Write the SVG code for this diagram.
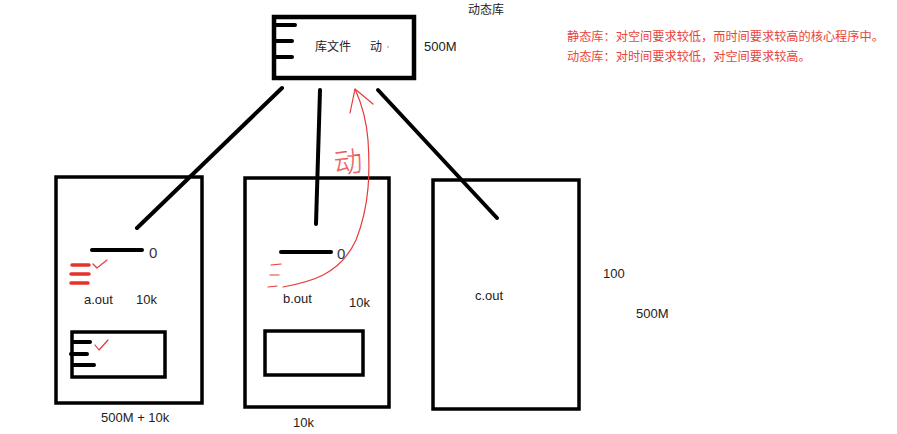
<svg xmlns="http://www.w3.org/2000/svg" width="897" height="434" viewBox="0 0 897 434">
<style>
.box{fill:none;stroke:#000;stroke-width:3.5}
.thick{fill:none;stroke:#000;stroke-width:4;stroke-linecap:round}
.t{font-family:"Liberation Sans","Noto Sans CJK SC",sans-serif;font-size:13px;fill:#222}
.cn{font-family:"Noto Sans CJK SC","Liberation Sans",sans-serif;font-size:12px;fill:#222}
.red{fill:none;stroke:#e83a3a;stroke-width:1.2;stroke-linecap:round;stroke-linejoin:round}
.redbar{stroke:#e8302c;stroke-width:3.5;stroke-linecap:round}
.rt{font-family:"Noto Sans CJK SC","Liberation Sans",sans-serif;font-size:12.2px;fill:#e8453c}
.zero{font-family:"Liberation Sans",sans-serif;font-size:15px;fill:#334;font-weight:300}
</style>
<rect width="897" height="434" fill="#fff"/>
<g id="connectors">
<line class="thick" x1="282" y1="88" x2="137" y2="228"/>
<line class="thick" x1="320" y1="90" x2="316" y2="224"/>
<line class="thick" x1="378" y1="90" x2="497" y2="218"/>
</g>
<g id="lib">
<rect x="274" y="17" width="140" height="61" fill="none" stroke="#000" stroke-width="4.5"/>
<line class="thick" x1="275" y1="25" x2="295" y2="25"/>
<line class="thick" x1="275" y1="41" x2="292" y2="41"/>
<line class="thick" x1="275" y1="57" x2="292" y2="57"/>
<text class="cn" x="315" y="51">库文件</text>
<text class="cn" x="370" y="51">动</text>
<circle cx="388" cy="47" r="0.8" fill="#888"/>
<text class="t" x="424" y="51">500M</text>
<text class="cn" x="468" y="14">动态库</text>
</g>
<g id="notes">
<text class="rt" x="567" y="41">静态库：对空间要求较低，而时间要求较高的核心程序中。</text>
<text class="rt" x="567" y="61">动态库：对时间要求较低，对空间要求较高。</text>
</g>
<g id="a">
<rect class="box" x="56" y="177" width="146" height="226"/>
<line class="thick" x1="92" y1="250" x2="142" y2="250"/>
<text class="zero" x="149" y="258">0</text>
<line class="redbar" x1="72" y1="265" x2="89" y2="265"/>
<line class="redbar" x1="71" y1="274" x2="89" y2="274"/>
<line class="redbar" x1="71" y1="283" x2="88" y2="283"/>
<polyline class="red" points="93,264 97,268 107,260"/>
<text class="t" x="84" y="304">a.out</text>
<text class="t" x="136" y="304">10k</text>
<rect x="72" y="332" width="93" height="45" fill="none" stroke="#000" stroke-width="3.5"/>
<line class="thick" x1="73" y1="342" x2="90" y2="342"/>
<line class="thick" x1="71" y1="354" x2="87" y2="354"/>
<line class="thick" x1="73" y1="365" x2="94" y2="365"/>
<polyline class="red" points="95,345 99,350 108,340"/>
<text class="t" x="101" y="422">500M + 10k</text>
</g>
<g id="b">
<rect class="box" x="245" y="178" width="144" height="229"/>
<line class="thick" x1="281" y1="252" x2="331" y2="252"/>
<text class="zero" x="337" y="259">0</text>
<line class="red" x1="271" y1="265" x2="281" y2="264"/>
<line class="red" x1="270" y1="275" x2="279" y2="275"/>
<line class="red" x1="268" y1="287" x2="277" y2="286"/>
<path class="red" d="M283,287 C310,282 340,275 356,240 C370,205 370,170 368,140 C366,115 360,100 355,89"/>
<polyline class="red" points="350,113 355,89 373,104"/>
<text x="334" y="172" font-family="Noto Sans CJK SC,sans-serif" font-size="28" font-weight="100" fill="none" stroke="#e83a3a" stroke-width="0.6" transform="rotate(-6 348 160)">动</text>
<text class="t" x="283" y="303">b.out</text>
<text class="t" x="349" y="307">10k</text>
<rect x="265" y="331" width="98" height="44" fill="none" stroke="#000" stroke-width="3.5"/>
<text class="t" x="293" y="427">10k</text>
</g>
<g id="c">
<rect class="box" x="433" y="180" width="146" height="229"/>
<text class="t" x="475" y="300">c.out</text>
<text class="t" x="603" y="278">100</text>
<text class="t" x="636" y="318">500M</text>
</g>
</svg>
